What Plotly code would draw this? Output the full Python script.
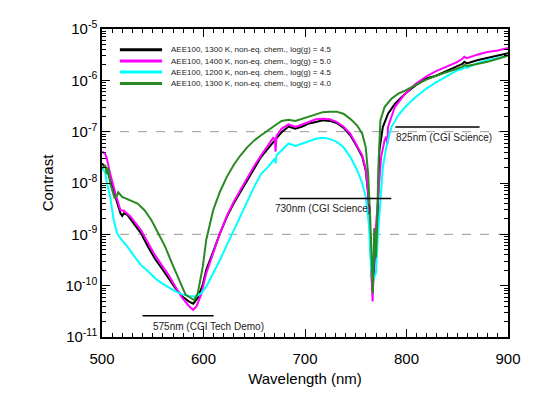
import numpy as np
import plotly.graph_objects as go

# Wavelength (nm) and log10(contrast), one pair per model
wl_black = [500, 504.7, 508.1, 513.2, 518.2, 519.9, 521.6, 525, 531.8, 538.5, 545.3, 552, 558.8,
            565.5, 572.3, 579.1, 585.8, 589.9, 594.3, 599.3, 602.7, 609.5, 616.2, 623, 629.7,
            636.5, 643.2, 650, 656.8, 663.5, 670.3, 677, 683.8, 690.5, 697.3, 704, 710.8, 717.6,
            724.3, 731.1, 737.8, 744.6, 751.4, 756.4, 759.8, 762.2, 764.2, 766.3, 768.2, 770,
            771.6, 773.3, 776.7, 781.8, 788.5, 798.6, 808.8, 818.9, 829.1, 839.2, 849.3, 855,
            857, 859.5, 869.6, 879.7, 889.9, 900]
lc_black = [-7.62, -7.72, -7.94, -8.27, -8.59, -8.64, -8.59, -8.62, -8.79, -8.98, -9.24, -9.47, -9.66,
            -9.85, -10.05, -10.21, -10.31, -10.35, -10.24, -9.98, -9.69, -9.34, -8.98, -8.66, -8.40,
            -8.17, -7.94, -7.72, -7.49, -7.33, -7.17, -7.01, -6.90, -6.94, -6.90, -6.84, -6.81, -6.78,
            -6.79, -6.83, -6.92, -7.07, -7.30, -7.49, -7.75, -8.20, -8.98, -10.10, -9.63, -9.20,
            -8.66, -7.36, -6.91, -6.65, -6.46, -6.26, -6.10, -5.97, -5.91, -5.82, -5.74, -5.68,
            -5.64, -5.67, -5.61, -5.56, -5.52, -5.47]

wl_magenta = [500, 503, 504.7, 508.1, 513.2, 518.2, 521.6, 528.4, 538.5, 545.3, 552, 558.8, 565.5,
              572.3, 579.1, 585.8, 589.9, 593.2, 597.6, 602.7, 609.5, 616.2, 623, 629.7, 636.5,
              643.2, 650, 656.8, 663.5, 668.6, 670.3, 671, 672, 677, 683.8, 690.5, 697.3, 704,
              710.8, 717.6, 724.3, 731.1, 737.8, 744.6, 751.4, 756.4, 759.8, 762.2, 764.2, 766.6,
              768.2, 771.6, 775, 778.4, 780.1, 781.1, 781.8, 788.5, 798.6, 808.8, 818.9, 829.1,
              839.2, 849.3, 855, 857, 859.5, 869.6, 879.7, 889.9, 900]
lc_magenta = [-7.39, -7.43, -7.52, -7.82, -8.20, -8.53, -8.54, -8.66, -8.92, -9.17, -9.40, -9.60, -9.79,
              -10.02, -10.24, -10.40, -10.47, -10.40, -10.18, -9.76, -9.36, -8.98, -8.64, -8.37, -8.13,
              -7.89, -7.67, -7.46, -7.28, -7.12, -7.14, -7.39, -7.08, -6.94, -6.86, -6.91, -6.86, -6.81,
              -6.76, -6.75, -6.76, -6.81, -6.90, -7.04, -7.27, -7.46, -7.72, -8.20, -9.10, -10.31,
              -9.30, -8.33, -7.49, -7.17, -7.10, -7.25, -6.91, -6.52, -6.26, -6.07, -5.93, -5.82,
              -5.73, -5.65, -5.58, -5.54, -5.57, -5.50, -5.45, -5.42, -5.37]

wl_cyan = [500, 503, 504.7, 508.1, 511.5, 514.9, 518.2, 525, 531.8, 538.5, 545.3, 552, 558.8, 565.5,
           572.3, 579.1, 585.8, 592.6, 597.6, 602.7, 609.5, 616.2, 623, 629.7, 636.5, 643.2, 650,
           656.8, 663.5, 670.3, 671, 672, 677, 683.8, 690.5, 697.3, 704, 710.8, 717.6, 724.3, 731.1,
           737.8, 744.6, 751.4, 756.4, 759.8, 763.2, 764.9, 767, 768.2, 769.9, 771.6, 774.3, 776.7,
           780.1, 785.1, 791.9, 798.6, 808.8, 818.9, 829.1, 839.2, 849.3, 855, 857, 859.5, 869.6,
           879.7, 889.9, 900]
lc_cyan = [-7.72, -7.78, -7.98, -8.27, -8.72, -8.98, -9.08, -9.24, -9.43, -9.60, -9.72, -9.85, -9.95, -10.03,
           -10.11, -10.17, -10.20, -10.21, -10.15, -10.02, -9.76, -9.50, -9.21, -8.92, -8.62, -8.33, -8.07,
           -7.82, -7.69, -7.52, -7.62, -7.46, -7.36, -7.23, -7.28, -7.23, -7.18, -7.14, -7.12, -7.14, -7.20,
           -7.30, -7.49, -7.75, -8.01, -8.27, -8.85, -9.63, -9.90, -9.85, -9.75, -9.10, -8.33, -7.69,
           -7.30, -6.91, -6.68, -6.52, -6.33, -6.17, -6.04, -5.93, -5.81, -5.78, -5.74, -5.76, -5.67,
           -5.61, -5.56, -5.52]

wl_green = [500, 503, 504.7, 506, 508.1, 511.5, 512.5, 514.9, 516, 519.9, 526.7, 535.1, 541.9, 548.6,
            555.4, 562.2, 568.9, 575.7, 582.4, 587.5, 590.9, 594.3, 599.3, 602.7, 609.5, 616.2, 623,
            629.7, 636.5, 643.2, 650, 656.8, 663.5, 670.3, 677, 683.8, 690.5, 697.3, 704, 710.8,
            717.6, 724.3, 731.1, 737.8, 744.6, 751.4, 756.4, 759.8, 762.2, 764.2, 765.5, 766.9,
            768.2, 769.9, 770.9, 772.3, 774.3, 778.4, 785.1, 791.9, 798.6, 808.8, 818.9, 829.1,
            839.2, 849.3, 855, 857, 859.5, 869.6, 879.7, 889.9, 900]
lc_green = [-7.72, -7.65, -7.82, -7.70, -8.01, -8.20, -8.30, -8.24, -8.18, -8.27, -8.33, -8.40, -8.53, -8.72,
            -8.98, -9.24, -9.56, -9.89, -10.18, -10.24, -10.28, -10.15, -9.63, -9.11, -8.53, -8.17, -7.88,
            -7.65, -7.46, -7.30, -7.17, -7.07, -6.97, -6.88, -6.79, -6.77, -6.79, -6.75, -6.70, -6.66,
            -6.62, -6.61, -6.61, -6.65, -6.75, -6.88, -7.04, -7.30, -7.82, -8.66, -9.63, -10.15,
            -8.88, -9.45, -8.93, -7.69, -6.78, -6.52, -6.36, -6.26, -6.20, -6.10, -5.99, -5.91,
            -5.84, -5.78, -5.74, -5.70, -5.72, -5.68, -5.64, -5.58, -5.52]

names = ["AEE100, 1300 K, non-eq. chem., log(g) = 4.5",
         "AEE100, 1400 K, non-eq. chem., log(g) = 5.0",
         "AEE100, 1200 K, non-eq. chem., log(g) = 4.5",
         "AEE100, 1300 K, non-eq. chem., log(g) = 4.0"]
colors = ["black", "#ff00ff", "#00ffff", "#2a8a22"]
wls = [wl_black, wl_magenta, wl_cyan, wl_green]
lcs = [lc_black, lc_magenta, lc_cyan, lc_green]

# y tick decades
y_exp = [-11, -10, -9, -8, -7, -6, -5]

# CGI bandpasses: label, start/end wavelength, contrast level of the bar
band_labels = ["575nm (CGI Tech Demo)", "730nm (CGI Science)", "825nm (CGI Science)"]
band_start = [540, 675, 789]
band_end = [610, 785, 872]
band_label_x = [548, 668, 788]
band_level = [2.6e-11, 5.0e-9, 1.23e-7]

fig = go.Figure()
for name, wl, lc, color in zip(names, wls, lcs, colors):
    fig.add_trace(go.Scatter(x=wl, y=10 ** np.array(lc), mode="lines", name=name,
                             line=dict(color=color, width=2), showlegend=False))

for lab, x0, x1, xl, lev in zip(band_labels, band_start, band_end, band_label_x, band_level):
    fig.add_shape(type="line", x0=x0, x1=x1, y0=lev, y1=lev,
                  xref="x", yref="y", line=dict(color="black", width=1.5))
    fig.add_annotation(x=xl, y=np.log10(lev), text=lab, showarrow=False,
                       xanchor="left", yanchor="top", yshift=-3,
                       font=dict(size=10, color="#222"))

# dashed reference levels
for lev in [1e-7, 1e-9]:
    fig.add_shape(type="line", x0=0, x1=1, xref="paper", y0=lev, y1=lev,
                  yref="y", line=dict(color="#999", width=1, dash="dash"), layer="below")

# hand-drawn legend, tighter than plotly's own
leg_y = [0.933, 0.896, 0.860, 0.823]
for name, color, ly in zip(names, colors, leg_y):
    fig.add_shape(type="line", x0=0.044, x1=0.148, y0=ly, y1=ly, xref="paper", yref="paper",
                  line=dict(color=color, width=3))
    fig.add_annotation(x=0.165, y=ly, xref="paper", yref="paper", text=name, showarrow=False,
                       xanchor="left", yanchor="middle", font=dict(size=8, color="#222"))

axis_common = dict(showline=True, linecolor="black", linewidth=1.5, mirror="allticks",
                   ticks="inside", tickcolor="black", showgrid=False, zeroline=False,
                   automargin=False, tickfont=dict(size=15, color="black"))

fig.update_xaxes(range=[500, 900], dtick=100, ticklen=8, tickwidth=1.2, ticklabelstandoff=7,
                 minor=dict(dtick=10, ticks="inside", ticklen=4, tickcolor="black"),
                 title=dict(text="Wavelength (nm)", font=dict(size=15, color="black"), standoff=8),
                 **axis_common)
fig.update_yaxes(type="log", range=[-11, -5], tickmode="array",
                 tickvals=[10.0 ** e for e in y_exp],
                 ticktext=["10<sup>%d</sup>" % e for e in y_exp],
                 ticklen=8, tickwidth=1.2,
                 minor=dict(dtick="D1", ticks="inside", ticklen=4, tickcolor="black"),
                 title=dict(text="Contrast", font=dict(size=15, color="black"), standoff=8),
                 **axis_common)

fig.update_layout(
    width=538, height=411,
    margin=dict(l=94, r=38, t=21, b=82),
    plot_bgcolor="white", paper_bgcolor="white",
    font=dict(family="Liberation Sans, Arial, sans-serif", color="black"),
    showlegend=False,
)

fig.write_html("out.html")
